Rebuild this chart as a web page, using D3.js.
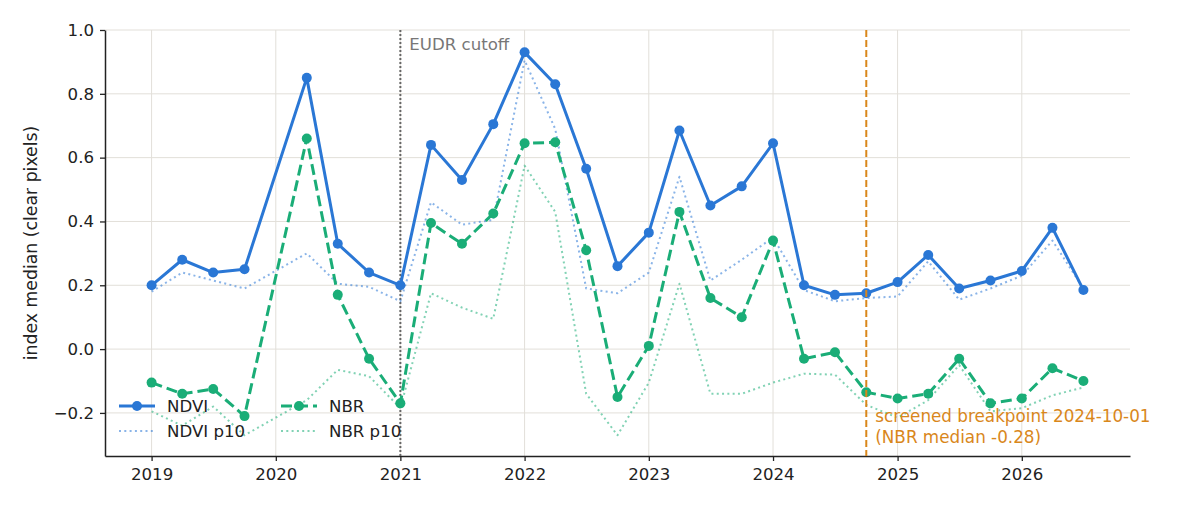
<!DOCTYPE html>
<html>
<head>
<meta charset="utf-8">
<script src="https://cdn.jsdelivr.net/npm/d3@7"></script>
<style>
  body { margin: 0; background: #fff; }
  svg text { font-family: "DejaVu Sans", sans-serif; }
</style>
</head>
<body>
<svg id="chart" width="1200" height="510"></svg>
<script>
// quarterly dates (2020-01 has no clear observation)
const dates = ["2019-01-01","2019-04-01","2019-07-01","2019-10-01","2020-04-01","2020-07-01","2020-10-01",
  "2021-01-01","2021-04-01","2021-07-01","2021-10-01","2022-01-01","2022-04-01","2022-07-01","2022-10-01",
  "2023-01-01","2023-04-01","2023-07-01","2023-10-01","2024-01-01","2024-04-01","2024-07-01","2024-10-01",
  "2025-01-01","2025-04-01","2025-07-01","2025-10-01","2026-01-01","2026-04-01","2026-07-01"];

const ndvi    = [0.20,0.28,0.24,0.25,0.85,0.33,0.24,0.20,0.64,0.53,0.705,0.93,0.83,0.565,0.26,
                 0.365,0.685,0.45,0.51,0.645,0.20,0.17,0.175,0.21,0.295,0.19,0.215,0.245,0.38,0.185];
const ndviP10 = [0.18,0.24,0.215,0.19,0.30,0.205,0.195,0.15,0.46,0.39,0.405,0.905,0.69,0.19,0.175,
                 0.24,0.54,0.215,0.28,0.35,0.185,0.15,0.16,0.165,0.275,0.155,0.19,0.23,0.34,0.19];
const nbr     = [-0.105,-0.14,-0.125,-0.21,0.66,0.17,-0.03,-0.17,0.395,0.33,0.425,0.645,0.648,0.31,-0.15,
                 0.01,0.43,0.16,0.10,0.34,-0.03,-0.01,-0.135,-0.155,-0.14,-0.03,-0.17,-0.155,-0.06,-0.10];
const nbrP10  = [-0.195,-0.24,-0.18,-0.27,-0.16,-0.065,-0.085,-0.185,0.175,0.13,0.095,0.575,0.43,-0.14,-0.27,
                 -0.105,0.205,-0.14,-0.14,-0.105,-0.077,-0.08,-0.175,-0.215,-0.16,-0.05,-0.195,-0.185,-0.145,-0.12];

const yTicks = [-0.2, 0.0, 0.2, 0.4, 0.6, 0.8, 1.0];
const yearTicks = [2019, 2020, 2021, 2022, 2023, 2024, 2025, 2026];
const eudrDate = "2021-01-01";
const breakDate = "2024-10-01";

const C_NDVI = "#2a77d5", C_NBR = "#1aad77", C_BREAK = "#d9871b";
const FS = "16.6px";

const svg = d3.select("#chart");
const margin = { left: 105, right: 70, top: 30, bottom: 54 };
const W = 1200, H = 510;
const parse = d3.utcParse("%Y-%m-%d");
const xs = dates.map(parse);

// matplotlib-like 5% margin on x
const t0 = xs[0].getTime(), t1 = xs[xs.length - 1].getTime();
const pad = (t1 - t0) * 0.05;
const x = d3.scaleUtc()
  .domain([new Date(t0 - pad), new Date(t1 + pad)])
  .range([margin.left, W - margin.right]);
const y = d3.scaleLinear()
  .domain([-0.335, 1.0])
  .range([H - margin.bottom, margin.top]);

// grid
const grid = svg.append("g").attr("stroke", "#e2dfd9").attr("stroke-width", 1);
yearTicks.forEach(yr => {
  const xx = x(new Date(Date.UTC(yr, 0, 1)));
  grid.append("line").attr("x1", xx).attr("x2", xx).attr("y1", margin.top).attr("y2", H - margin.bottom);
});
yTicks.forEach(v => {
  grid.append("line").attr("x1", margin.left).attr("x2", W - margin.right).attr("y1", y(v)).attr("y2", y(v));
});

// axes
const xAxis = d3.axisBottom(x)
  .tickValues(yearTicks.map(yr => new Date(Date.UTC(yr, 0, 1))))
  .tickFormat(d3.utcFormat("%Y"))
  .tickSizeInner(5).tickSizeOuter(0).tickPadding(7);
const yAxis = d3.axisLeft(y)
  .tickValues(yTicks)
  .tickFormat(v => d3.format(".1f")(v).replace("-", "\u2212"))
  .tickSizeInner(5).tickSizeOuter(0).tickPadding(6);

const gx = svg.append("g").attr("transform", `translate(0,${H - margin.bottom})`).call(xAxis);
const gy = svg.append("g").attr("transform", `translate(${margin.left},0)`).call(yAxis);
[gx, gy].forEach(g => {
  g.select(".domain").attr("stroke", "#222").attr("stroke-width", 1.5);
  g.selectAll(".tick line").attr("stroke", "#222").attr("stroke-width", 1.3);
  g.selectAll(".tick text").attr("fill", "#222").style("font-size", FS).style("font-family", "DejaVu Sans");
});

svg.append("text")
  .attr("transform", `translate(37,${(margin.top + H - margin.bottom) / 2}) rotate(-90)`)
  .attr("text-anchor", "middle")
  .attr("fill", "#222")
  .style("font-size", "17.3px")
  .text("index median (clear pixels)");

// EUDR cutoff marker
const ex = x(parse(eudrDate));
svg.append("line").attr("x1", ex).attr("x2", ex).attr("y1", margin.top).attr("y2", H - margin.bottom)
  .attr("stroke", "#666").attr("stroke-width", 2).attr("stroke-dasharray", "2,2");
svg.append("text").attr("x", ex + 9).attr("y", 50).attr("fill", "#777")
  .style("font-size", FS).text("EUDR cutoff");

// lines
const line = d3.line().x((d, i) => x(xs[i])).y(d => y(d));
function series(vals, color, width, dash, opacity) {
  svg.append("path").datum(vals).attr("d", line)
    .attr("fill", "none").attr("stroke", color).attr("stroke-width", width)
    .attr("stroke-dasharray", dash).attr("stroke-opacity", opacity)
    .attr("stroke-linejoin", "round");
}
series(ndviP10, C_NDVI, 2, "2,3.3", 0.55);
series(nbrP10, C_NBR, 2, "2,3.3", 0.55);
series(nbr, C_NBR, 3, "11,5", 1);
svg.append("g").selectAll("circle").data(nbr).join("circle")
  .attr("cx", (d, i) => x(xs[i])).attr("cy", d => y(d)).attr("r", 5).attr("fill", C_NBR);
series(ndvi, C_NDVI, 3, null, 1);
svg.append("g").selectAll("circle").data(ndvi).join("circle")
  .attr("cx", (d, i) => x(xs[i])).attr("cy", d => y(d)).attr("r", 5).attr("fill", C_NDVI);

// breakpoint
const bx = x(parse(breakDate));
svg.append("line").attr("x1", bx).attr("x2", bx).attr("y1", margin.top).attr("y2", H - margin.bottom)
  .attr("stroke", C_BREAK).attr("stroke-width", 2).attr("stroke-dasharray", "7,3");
const note = svg.append("text").attr("fill", C_BREAK).style("font-size", "16.8px");
note.append("tspan").attr("x", bx + 9).attr("y", 422).text("screened breakpoint 2024-10-01");
note.append("tspan").attr("x", bx + 9).attr("y", 443).text("(NBR median -0.28)");

// legend (no frame, two columns)
const legendItems = [
  { label: "NDVI", color: C_NDVI, width: 3, dash: null, op: 1, marker: true, col: 0, row: 0 },
  { label: "NDVI p10", color: C_NDVI, width: 2, dash: "2,3.3", op: 0.55, marker: false, col: 0, row: 1 },
  { label: "NBR", color: C_NBR, width: 3, dash: "11,5", op: 1, marker: true, col: 1, row: 0 },
  { label: "NBR p10", color: C_NBR, width: 2, dash: "2,3.3", op: 0.55, marker: false, col: 1, row: 1 }
];
const lg = svg.append("g");
legendItems.forEach(it => {
  const lx = 119 + it.col * 162, ly = 406 + it.row * 25;
  lg.append("line").attr("x1", lx).attr("x2", lx + 36).attr("y1", ly).attr("y2", ly)
    .attr("stroke", it.color).attr("stroke-width", it.width)
    .attr("stroke-dasharray", it.dash).attr("stroke-opacity", it.op);
  if (it.marker) lg.append("circle").attr("cx", lx + 18).attr("cy", ly).attr("r", 5).attr("fill", it.color);
  lg.append("text").attr("x", lx + 48).attr("y", ly + 6).attr("fill", "#222")
    .style("font-size", FS).text(it.label);
});
</script>
</body>
</html>
